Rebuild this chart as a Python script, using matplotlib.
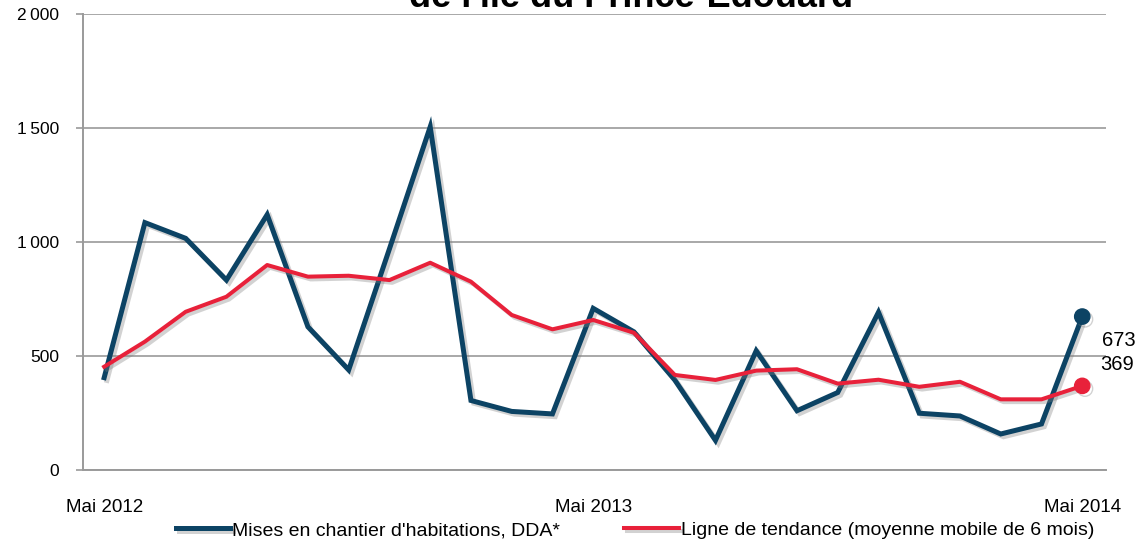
import matplotlib
matplotlib.use("Agg")
import matplotlib.pyplot as plt
import matplotlib.patheffects as pe

plt.rcParams['font.family'] = ['Liberation Sans', 'DejaVu Sans']

# mises en chantier, mai 2012 -> mai 2014 (mensuel)
mois = list(range(25))
mises_chantier = [405, 1085, 1016, 833, 1120, 628, 439, 970, 1505, 305, 257, 246,
                  709, 606, 395, 130, 523, 260, 340, 692, 249, 237, 158, 202, 673]
tendance = [453, 563, 694, 760, 899, 848, 852, 833, 909, 826, 680, 617,
            658, 602, 417, 395, 436, 442, 379, 396, 365, 387, 310, 310, 369]
etiquettes_x = {0: "Mai 2012", 12: "Mai 2013", 24: "Mai 2014"}
yticks = [0, 500, 1000, 1500, 2000]
ytick_labels = ["0", "500", "1\u2009000", "1\u2009500", "2\u2009000"]

bleu = "#0c4364"
rouge = "#e8213a"
gris = "#9a9a9a"

fig = plt.figure(figsize=(11.46, 5.48), dpi=100)
ax = fig.add_axes([0.0724, 0.1423, 0.8926, 0.8322])

ombre = [pe.SimpleLineShadow(offset=(2, -2), shadow_color="gray", alpha=0.35), pe.Normal()]

ax.plot(mois, mises_chantier, color=bleu, lw=3.6, solid_joinstyle="miter",
        path_effects=ombre, label="Mises en chantier d'habitations, DDA*", zorder=3)
ax.plot(mois, tendance, color=rouge, lw=2.9,
        path_effects=ombre, label="Ligne de tendance (moyenne mobile de 6 mois)", zorder=4)

# points de fin
ax.plot(mois[-1], mises_chantier[-1], "o", color=bleu, ms=11, zorder=5,
        path_effects=ombre)
ax.plot(mois[-1], tendance[-1], "o", color=rouge, ms=11, zorder=5,
        path_effects=ombre)
ax.annotate(str(mises_chantier[-1]), (mois[-1], mises_chantier[-1]),
            xytext=(20, -24), textcoords="offset pixels", va="center", ha="left",
            fontsize=14.5, annotation_clip=False)
ax.annotate(str(tendance[-1]), (mois[-1], tendance[-1]),
            xytext=(18, 21), textcoords="offset pixels", va="center", ha="left",
            fontsize=14.5, annotation_clip=False)

ax.set_xlim(-0.52, 24.58)
ax.set_ylim(0, 2000)
ax.set_yticks(yticks)
ax.set_yticklabels(ytick_labels)
ax.set_xticks(list(etiquettes_x.keys()))
ax.set_xticklabels(list(etiquettes_x.values()))

ax.grid(axis="y", color=gris, lw=1.2)
ax.set_axisbelow(True)
for s in ["top", "right"]:
    ax.spines[s].set_visible(False)
for s in ["left", "bottom"]:
    ax.spines[s].set_color(gris)
    ax.spines[s].set_linewidth(1.4)
ax.tick_params(axis="y", length=5, color=gris, width=1.2, labelsize=12.5, pad=12)
ax.tick_params(axis="x", length=0, labelsize=13.5, pad=21)

# titre (coupé en haut dans l'original)
fig.text(0.551, 0.9875, "de l'île du Prince-Édouard", ha="center", va="baseline",
         fontsize=26, fontweight="bold")

fig.legend(loc="center", bbox_to_anchor=(0.554, 0.032), ncol=2, frameon=False,
           fontsize=14, handlelength=2.8, columnspacing=3.3, handletextpad=0.1)

fig.savefig("out.png", dpi=100)
